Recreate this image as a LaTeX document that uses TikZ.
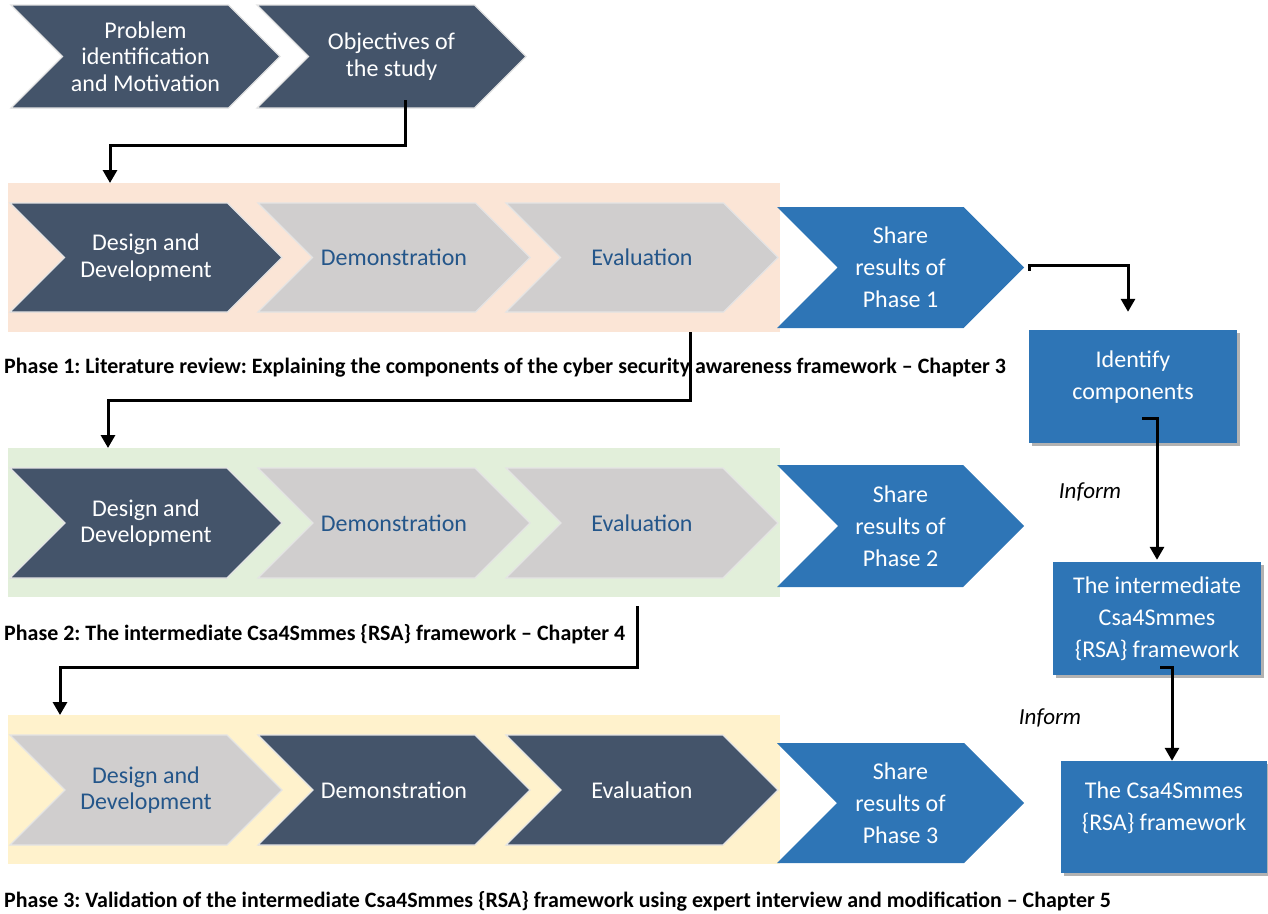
\documentclass[tikz,border=0pt]{standalone}
\usepackage{fontspec}
\setmainfont{Carlito}
\usetikzlibrary{arrows.meta,calc,shadows}

\definecolor{slate}{HTML}{44546A}
\definecolor{greyfill}{HTML}{D0CECE}
\definecolor{greytext}{HTML}{24568A}
\definecolor{shareblue}{HTML}{2E75B6}
\definecolor{peach}{HTML}{FBE5D6}
\definecolor{mint}{HTML}{E2EFDA}
\definecolor{cream}{HTML}{FFF2CC}
\definecolor{edge}{HTML}{E4E4E4}

\newcommand\chevfont{\fontsize{24}{26.5}\selectfont}
\newcommand\sharefont{\fontsize{24}{32}\selectfont}

% chevron: name, look, left x, top y, tip x, bottom y, label
\newcommand\chev[7]{%
  \path[#2] (#3,#4) -- ({#5-(#6-#4)/2},#4) -- (#5,{(#4+#6)/2})
    -- ({#5-(#6-#4)/2},#6) -- (#3,#6) -- ({#3+(#6-#4)/2},{(#4+#6)/2}) -- cycle;
  \node[#2 label, minimum width={(#5-#3)*1pt}, minimum height={(#6-#4)*1pt}, inner sep=0pt]
    (#1) at ({(#3+#5)/2},{(#4+#6)/2}) {#7};
}

\tikzset{
  dk/.style={fill=slate, draw=edge, line width=1.2pt},
  dk label/.style={text=white, font=\chevfont, align=center},
  gr/.style={fill=greyfill, draw=edge, line width=1.2pt},
  gr label/.style={text=greytext, font=\chevfont, align=center},
  bl/.style={fill=shareblue},
  bl label/.style={text=white, font=\sharefont, align=center},
  phasebg/.style={anchor=north west, minimum width=772pt, minimum height=149pt, inner sep=0pt},
  caption/.style={anchor=west, inner sep=0pt, font=\fontsize{21.95}{24}\bfseries\selectfont\frenchspacing},
  resultbox/.style={fill=shareblue, inner sep=0pt,
    drop shadow={shadow xshift=2.5pt, shadow yshift=-2.5pt, fill=black, opacity=0.3}},
  boxtext/.style={text=white, font=\sharefont, align=center},
  inform/.style={font=\fontsize{23}{26}\itshape\selectfont},
  conn/.style={line width=3pt, -{Triangle[width=14pt,length=13pt]}},
}

\begin{document}
\begin{tikzpicture}[x=1pt,y=-1pt]
\useasboundingbox (0,0) rectangle (1268,913);

% phase backgrounds
\node[phasebg, fill=peach] (ph1) at (8,183) {};
\node[phasebg, fill=mint]  (ph2) at (8,448) {};
\node[phasebg, fill=cream] (ph3) at (8,715) {};

% opening steps
\chev{prob}{dk}{11}{5}{280}{108}{Problem\\identification\\and Motivation}
\chev{obj}{dk}{257}{5}{526}{108}{Objectives of\\the study}

% phase 1
\chev{dd1}{dk}{10}{203}{282}{312}{Design and\\Development}
\chev{dem1}{gr}{258}{203}{530}{312}{Demonstration}
\chev{eva1}{gr}{506}{203}{778}{312}{Evaluation}
\chev{sh1}{bl}{777}{207}{1024}{328}{Share\\results of\\Phase 1}

% phase 2
\chev{dd2}{dk}{10}{468}{282}{578}{Design and\\Development}
\chev{dem2}{gr}{258}{468}{530}{578}{Demonstration}
\chev{eva2}{gr}{506}{468}{778}{578}{Evaluation}
\chev{sh2}{bl}{777}{465}{1024}{587}{Share\\results of\\Phase 2}

% phase 3
\chev{dd3}{gr}{10}{735}{282}{845}{Design and\\Development}
\chev{dem3}{dk}{258}{735}{530}{845}{Demonstration}
\chev{eva3}{dk}{506}{735}{778}{845}{Evaluation}
\chev{sh3}{bl}{777}{743}{1024}{863}{Share\\results of\\Phase 3}

% phase captions
\node[caption] (cap1) at (4,368) {Phase 1: Literature review: Explaining the components of the cyber security awareness framework -- Chapter 3};
\node[caption] (cap2) at (4,634) {Phase 2: The intermediate Csa4Smmes \{RSA\} framework -- Chapter 4};
\node[caption] (cap3) at (4,901) {Phase 3: Validation of the intermediate Csa4Smmes \{RSA\} framework using expert interview and modification -- Chapter 5};

% outcome boxes
\node[resultbox, minimum width=208pt, minimum height=113pt] (ident) at (1133,386.5) {};
\node[boxtext] (identtxt) at (1133,377) {Identify\\components};
\node[resultbox, minimum width=208pt, minimum height=113pt] (inter) at (1157,618.5) {};
\node[boxtext] (intertxt) at (1157,619) {The intermediate\\Csa4Smmes\\\{RSA\} framework};
\node[resultbox, minimum width=206pt, minimum height=112pt] (final) at (1164,817) {};
\node[boxtext] (finaltxt) at (1164,808) {The Csa4Smmes\\\{RSA\} framework};

\node[inform] (inf1) at (1090,492) {Inform};
\node[inform] (inf2) at (1050,718) {Inform};

% connectors
\draw[conn] ([xshift=13.5pt,yshift=8pt]obj.south) -- ++(0,45) -| ([xshift=102pt]ph1.north west);
\draw[conn] ([xshift=682pt]ph1.south west) -- ++(0,68) -| ([xshift=100pt]ph2.north west);
\draw[conn] ([xshift=629pt,yshift=-9pt]ph2.south west) -- ++(0,61) -| ([xshift=52pt]ph3.north west);
\draw[conn] ([xshift=5pt,yshift=-3pt]sh1.east) -- ++(0,-5) -| ([xshift=-5pt,yshift=18pt]ident.north);
\draw[conn] ([xshift=9pt,yshift=25pt]ident.south) -| ([yshift=2pt]inter.north);
\draw[conn] ([xshift=3pt,yshift=8pt]inter.south) -| ([xshift=8pt]final.north);
\end{tikzpicture}
\end{document}
